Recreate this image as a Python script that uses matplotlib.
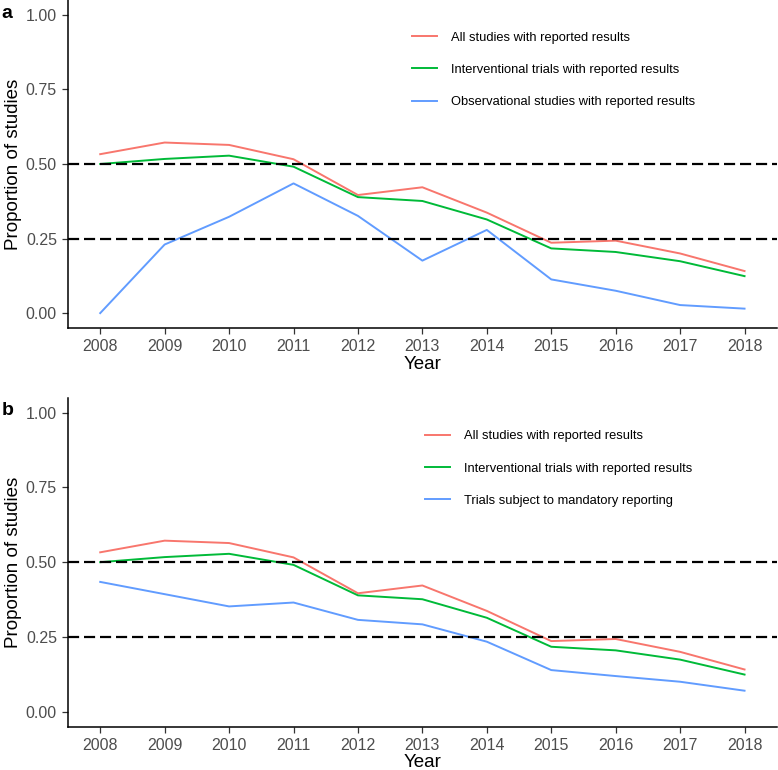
import matplotlib
matplotlib.use("Agg")
import matplotlib.pyplot as plt

plt.rcParams['font.family'] = ['Liberation Sans', 'DejaVu Sans']

# データ
years = [2008, 2009, 2010, 2011, 2012, 2013, 2014, 2015, 2016, 2017, 2018]
all_studies = [0.533, 0.572, 0.564, 0.516, 0.396, 0.422, 0.337, 0.236, 0.243, 0.200, 0.141]
interventional = [0.500, 0.517, 0.528, 0.491, 0.389, 0.376, 0.314, 0.217, 0.205, 0.174, 0.124]
observational = [0.000, 0.230, 0.323, 0.435, 0.326, 0.176, 0.279, 0.113, 0.075, 0.027, 0.015]
mandatory = [0.434, 0.393, 0.352, 0.365, 0.307, 0.292, 0.234, 0.139, 0.119, 0.100, 0.070]

label_all = "All studies with reported results"
label_int = "Interventional trials with reported results"
label_obs = "Observational studies with reported results"
label_mand = "Trials subject to mandatory reporting"

ref_lines = [0.50, 0.25]
y_ticks = [0.00, 0.25, 0.50, 0.75, 1.00]

red = '#F8766D'
green = '#00BA38'
blue = '#619CFF'

fig = plt.figure(figsize=(7.78, 7.70), dpi=100)
ax_a = fig.add_axes([0.0874, 0.574, 0.911, 0.426])
ax_b = fig.add_axes([0.0874, 0.0564, 0.911, 0.427])

panels = [
    (ax_a, observational, label_obs, 'a', 0.485, 0.904),
    (ax_b, mandatory, label_mand, 'b', 0.5035, 0.901),
]

for ax, third, third_label, letter, leg_x, leg_y in panels:
    ax.plot(years, all_studies, color=red, lw=1.4, label=label_all)
    ax.plot(years, interventional, color=green, lw=1.4, label=label_int)
    ax.plot(years, third, color=blue, lw=1.4, label=third_label)
    for v in ref_lines:
        ax.axhline(v, color='black', lw=1.6, dashes=(5, 2.2))

    ax.set_xlim(2007.5, 2018.5)
    ax.set_ylim(-0.05, 1.05)
    ax.set_xticks(years)
    ax.set_yticks(y_ticks)
    ax.set_yticklabels(["%.2f" % t for t in y_ticks])
    ax.tick_params(colors='#333333', labelcolor='#4d4d4d', labelsize=11.5,
                   length=4.5, width=0.9)
    ax.spines['top'].set_visible(False)
    ax.spines['right'].set_visible(False)
    ax.spines['left'].set_linewidth(1.1)
    ax.spines['bottom'].set_linewidth(1.1)
    ax.set_xlabel("Year", fontsize=13.5, labelpad=1)
    ax.set_ylabel("Proportion of studies", fontsize=13.5, labelpad=3)

    ax.legend(loc='upper left', bbox_to_anchor=(leg_x, leg_y), frameon=False,
              fontsize=9.3, handlelength=1.94, handletextpad=1.08,
              labelspacing=1.57, borderpad=0, borderaxespad=0)

    ax.text(-0.094, 0.96, letter, transform=ax.transAxes, fontsize=14,
            fontweight='bold', va='center', ha='left')

fig.savefig("out.png", dpi=100)
